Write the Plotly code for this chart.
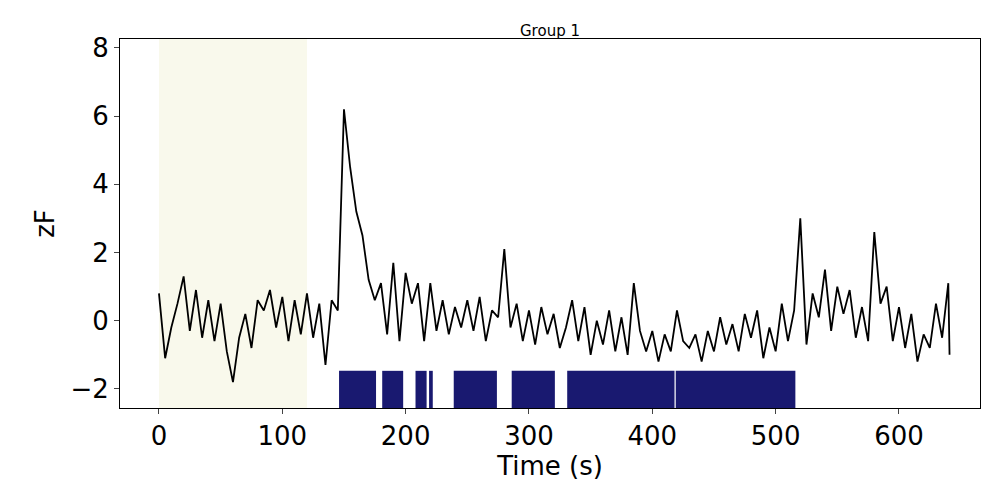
import plotly.graph_objects as go

# Trace (every 5 s)
time_s = list(range(0, 645, 5)) + [641]
zf = [0.8, -1.1, -0.2, 0.5, 1.3, -0.3, 0.9, -0.5, 0.6, -0.6, 0.5, -0.9, -1.8, -0.5, 0.2, -0.8,
      0.6, 0.3, 0.9, -0.2, 0.7, -0.6, 0.6, -0.4, 0.8, -0.5, 0.5, -1.3, 0.6, 0.3, 6.2, 4.5,
      3.2, 2.5, 1.2, 0.6, 1.1, -0.4, 1.7, -0.6, 1.4, 0.5, 1.1, -0.6, 1.1, -0.3, 0.6, -0.4,
      0.4, -0.2, 0.6, -0.3, 0.7, -0.6, 0.3, 0.1, 2.1, -0.2, 0.5, -0.6, 0.3, -0.7, 0.4, -0.4,
      0.2, -0.8, -0.2, 0.6, -0.6, 0.4, -1.0, 0.0, -0.7, 0.3, -0.9, 0.1, -1.0, 1.1, -0.3, -0.9,
      -0.3, -1.2, -0.4, -0.9, 0.3, -0.6, -0.8, -0.4, -1.2, -0.3, -0.9, 0.1, -0.7, -0.1, -0.9, 0.2,
      -0.5, 0.3, -1.1, -0.2, -0.9, 0.5, -0.6, 0.3, 3.0, -0.7, 0.8, 0.1, 1.5, -0.3, 1.0, 0.2,
      0.9, -0.5, 0.4, -0.6, 2.6, 0.5, 1.0, -0.6, 0.4, -0.8, 0.2, -1.2, -0.4, -0.8, 0.5, -0.5,
      1.1, -1.0]

# Event intervals (s)
ev_start = [146, 181, 208, 219, 239, 286, 331, 419]
ev_end = [176, 198, 217, 222, 274, 321, 418, 516]

baseline = (0, 120)

fig = go.Figure()
fig.add_vrect(x0=baseline[0], x1=baseline[1], fillcolor="#f9f9ec", line_width=0, layer="below")
for s, e in zip(ev_start, ev_end):
    fig.add_shape(type="rect", x0=s, x1=e, y0=-2.6, y1=-1.47,
                  fillcolor="#191970", line_width=0)
fig.add_trace(go.Scatter(x=time_s, y=zf, mode="lines",
                         line=dict(color="black", width=1.8), showlegend=False))

axis = dict(showline=True, mirror=True, linecolor="black", ticks="outside", automargin=False,
            showgrid=False, zeroline=False, tickfont=dict(size=26), title_font=dict(size=26))
fig.update_layout(
    width=1000, height=500, plot_bgcolor="white", paper_bgcolor="white",
    margin=dict(l=112, r=28, t=31, b=100),
    font=dict(family="DejaVu Sans", color="black"),
    title=dict(text="Group 1", x=0.542, xanchor="center", y=0.965, font=dict(size=15)),
    xaxis=dict(axis, range=[-31.6, 665.7], title_text="Time (s)", title_standoff=6,
               tickvals=[0, 100, 200, 300, 400, 500, 600]),
    yaxis=dict(axis, range=[-2.56, 8.26], title_text="zF", title_standoff=8,
               tickvals=[-2, 0, 2, 4, 6, 8],
               ticktext=["\u22122", "0", "2", "4", "6", "8"]),
)
fig.write_html("out.html")
